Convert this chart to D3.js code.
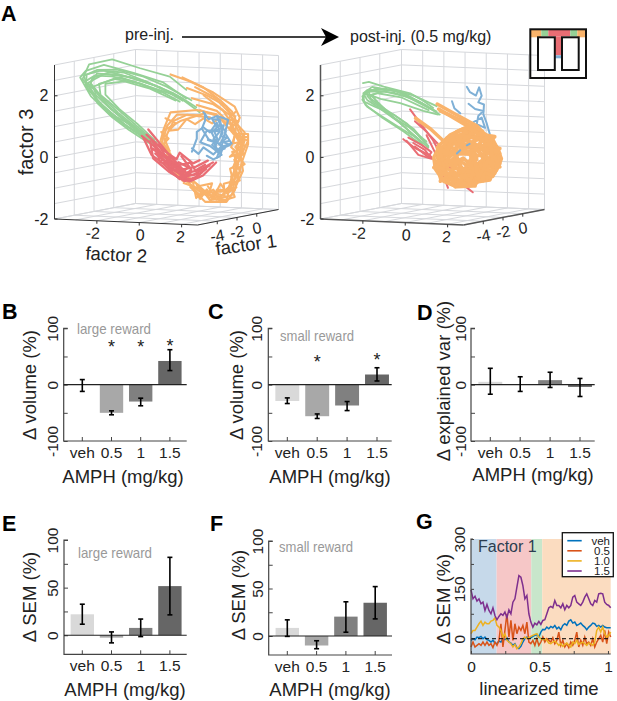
<!DOCTYPE html>
<html>
<head>
<meta charset="utf-8">
<script src="https://cdnjs.cloudflare.com/ajax/libs/d3/7.8.5/d3.min.js"></script>
<style>
	html, body { margin: 0; padding: 0; background: #fff; }
	svg { display: block; }
	text { font-family: "Liberation Sans", Arial, sans-serif; fill: #222; }
</style>
</head>
<body>
<div id="root"></div>
<script>

// Panel A: trajectories, each loop is a list of [factor 2, factor 3]
// with one factor 1 level per task phase
var factor1Green = -3.85, factor1Red = -1.8, factor1Orange = 0.3, factor1Blue = 0.3;

var preGreen = [
	[[-0.18,0.46],[-1.27,0.95],[-2.36,1.49],[-3.15,1.98],[-3.68,2.42],[-3.37,2.91],[-2.28,3.1],[-0.96,2.85],[0.44,2.62],[1.22,2.21]],
	[[-0.49,0.57],[-1.43,1.01],[-2.52,1.39],[-3.29,1.88],[-3.79,2.47],[-3.53,2.69],[-2.67,2.91],[-1.27,2.69],[0.13,2.42],[1.22,1.93]],
	[[-0.33,0.41],[-1.58,0.95],[-2.67,1.55],[-3.42,2.09],[-3.61,2.53],[-2.98,2.74],[-2.05,2.77],[-0.8,2.58],[0.29,2.29],[1.46,1.88]],
	[[-0.65,0.57],[-1.81,1.06],[-2.83,1.66],[-3.53,2.2],[-3.48,2.58],[-2.83,2.72],[-1.74,2.69],[-0.65,2.42],[0.6,2.09],[1.39,1.77]],
	[[-0.18,0.35],[-1.35,0.84],[-2.44,1.33],[-3.06,1.77],[-3.42,2.31],[-2.67,2.61],[-1.43,2.55],[-0.18,2.29],[0.91,1.98],[1.69,1.66]],
	[[-0.42,0.52],[-1.66,1.11],[-2.67,1.71],[-3.32,2.26],[-3.22,2.47],[-2.36,2.69],[-1.11,2.47],[-0.02,2.26],[1.07,1.88],[1.85,1.5]],
	[[-0.57,0.44],[-1.5,0.84],[-2.28,1.22],[-2.98,1.66],[-3.14,2.2],[-2.21,2.47],[-0.96,2.36],[0.13,2.09],[0.91,1.82]],
	[[-0.26,0.48],[-1.27,1.06],[-2.13,1.55],[-2.83,1.93],[-2.9,2.29],[-1.89,2.53],[-0.65,2.29],[0.6,2.04]],
	[[-0.4,0.42],[-1.1,0.9],[-2.0,1.38],[-2.75,1.85],[-3.3,2.3],[-3.0,2.62],[-2.0,2.62],[-0.75,2.45],[0.25,2.15],[1.05,1.85]],
	[[-0.55,0.5],[-1.45,0.98],[-2.35,1.5],[-3.05,2.05],[-3.55,2.35],[-3.1,2.55],[-2.3,2.55],[-1.2,2.4],[0.0,2.1]],
	[[-0.3,0.55],[-1.1,1.05],[-1.95,1.5],[-2.6,1.95],[-2.6,2.3],[-1.7,2.4],[-0.5,2.2],[0.7,1.85]]
];

var preOrange = [
	[[-1.46,2.38],[-0.53,2.18],[0.56,1.85],[1.57,1.42],[1.81,1.07],[1.5,0.55],[2.2,0.55],[2.2,0.22],[1.88,-0.43],[1.57,-1.3],[1.18,-1.68],[0.17,-1.71],[-0.53,-1.25]],
	[[-0.69,1.96],[0.25,1.75],[1.18,1.42],[1.5,0.98],[2.04,0.6],[1.81,0],[1.96,-0.65],[1.42,-1.46],[0.72,-1.62],[-0.06,-1.3],[-0.84,-1.13]],
	[[-0.45,1.64],[0.56,1.47],[1.34,1.15],[1.73,0.66],[2.04,0.12],[1.65,-0.54],[1.5,-1.19],[0.87,-1.51],[0.09,-1.46],[-0.69,-1.08],[-1.46,-0.65]],
	[[-0.22,1.42],[0.72,1.26],[1.42,0.82],[1.81,0.33],[1.57,-0.32],[1.73,-0.97],[1.03,-1.35],[0.25,-1.41],[-0.53,-0.97]],
	[[-0.06,1.26],[0.79,1.09],[1.5,0.55],[2.2,0.33],[1.81,-0.21],[1.5,-0.75],[1.18,-1.62],[0.4,-1.62],[-0.22,-1.19]],
	[[0.72,1.15],[-0.22,1.26],[-1.46,1.15],[-1.78,0.6],[-1.93,0.22],[-1.46,-0.21],[-1.78,-0.54]],
	[[0.4,1.04],[-0.69,1.09],[-1.31,0.88],[-1.62,0.44],[-1.78,0],[-1.15,-0.65]],
	[[0.09,1.15],[-1,0.88],[-1.78,0.55],[-1.85,0.12],[-1.39,-0.32]],
	[[-0.06,1.09],[-1.15,1.09],[-1.62,0.71],[-1.78,0.33],[-1.54,-0.05]],
	[[1.34,1.09],[1.18,0.88],[1.65,0.82],[1.5,0.22],[2.04,0.33],[1.73,-0.21],[2.04,-0.43],[1.57,-0.65],[1.81,-0.97],[1.34,-1.08],[1.57,-1.51],[0.87,-1.68],[0.56,-1.3],[-0.06,-1.51],[-0.37,-1.3]],
	[[1.81,0.12],[1.34,-0.21],[1.73,-0.1],[1.5,-0.54],[1.65,-0.86],[1.18,-1.3],[0.72,-1.3],[0.56,-1.62],[0.25,-1.3],[-0.06,-1.62],[-0.69,-1.03],[-1.15,-0.92],[-1.78,-0.54]],
	[[1.6,1.25],[1.25,1.0],[1.75,0.95],[1.35,0.7],[1.9,0.4],[1.6,0.1],[2.0,-0.1],[1.55,-0.3],[1.85,-0.7],[1.4,-0.85],[1.65,-1.2],[1.2,-1.4],[0.9,-1.1],[0.6,-1.5],[0.3,-1.2]],
	[[2.15,0.45],[1.7,0.45],[1.95,0.05],[1.45,-0.05],[1.75,-0.45],[1.35,-0.6],[1.5,-1.0],[1.05,-1.1],[1.1,-1.5],[0.6,-1.4],[0.45,-1.7],[0.1,-1.35],[-0.25,-1.6],[-0.4,-1.1],[-0.9,-1.0],[-1.2,-0.75]],
	[[-1.9,0.5],[-1.55,0.3],[-1.8,0.1],[-1.5,-0.1],[-1.7,-0.3],[-1.3,-0.45],[-1.4,-0.7],[-0.95,-0.75],[-0.9,-1.05],[-0.5,-1.05]],
	[[-1.7,0.95],[-1.2,0.8],[-1.55,0.55],[-1.1,0.6],[-0.7,0.95],[-0.3,0.8],[0.1,1.0],[0.5,0.85],[0.9,1.05],[1.2,0.85]],
	[[-0.9,2.3],[0.1,2.0],[0.9,1.6],[1.45,1.25],[1.7,0.85],[1.95,0.5]],
	[[-0.3,2.0],[0.6,1.7],[1.2,1.3],[1.6,1.1],[1.35,0.75],[1.85,0.2]],
	[[0.1,1.75],[1,1.3],[1.25,1.05],[1.6,0.55],[1.4,0.1],[1.75,-0.1]],
	[[-1.2,-0.55],[-0.6,-0.95],[-0.1,-1.2],[0.5,-1.1],[0.3,-1.55],[0.9,-1.55],[1.3,-1.2],[1.45,-0.8]]
];

var preRed = [
	[[-1.84,0.5],[-1.14,0.12],[-0.36,-0.32],[0.27,-0.64],[0.89,-0.53],[1.52,-0.26]],
	[[-1.53,0.72],[-1.06,0.34],[-0.52,-0.1],[0.11,-0.53],[0.73,-0.42],[1.28,-0.21]],
	[[-1.77,0.45],[-1.38,-0.1],[-0.83,-0.37],[-0.2,-0.75],[0.42,-0.91],[1.05,-0.7],[1.67,-0.26]],
	[[-1.45,0.34],[-1.3,-0.21],[-0.52,-0.64],[0.19,-0.91],[0.73,-0.75],[1.2,-0.48]],
	[[-1.61,0.55],[-0.83,0.07],[-0.2,-0.21],[-0.05,0.01],[0.58,-0.32],[0.89,-0.21]],
	[[-1.22,0.23],[-0.98,-0.32],[-0.36,-0.42],[0.27,-0.75],[0.89,-0.64]],
	[[-1.38,0.12],[-0.67,-0.21],[0.03,-0.59],[0.58,-0.7],[1.36,-0.37]],
	[[-1.14,0.01],[-0.52,-0.48],[0.11,-0.75],[0.5,-0.53],[0.03,-0.1]],
	[[-1.2,-0.05],[-0.7,-0.3],[-0.2,-0.45],[0.2,-0.8],[0.6,-0.85],[1.0,-0.6]],
	[[-1.05,0.25],[-0.65,-0.2],[-0.35,-0.55],[0.05,-0.65],[0.35,-0.45],[-0.1,-0.3],[-0.45,-0.6],[-0.05,-0.85],[0.3,-0.7]],
	[[-1.35,0.35],[-1.0,0.05],[-0.9,-0.25],[-0.5,-0.3],[-0.55,-0.55],[-0.15,-0.55],[0.1,-0.85],[0.45,-0.6]],
	[[-1.3,0.1],[-0.75,-0.1],[-0.4,-0.2],[-0.15,-0.4],[0.2,-0.35],[0.45,-0.3],[0.7,-0.55],[1.15,-0.35]]
];

var preBlue = [
	[[0.09,1.2],[0.33,0.98],[0.72,1.09],[1.03,1.04],[1.26,0.98],[1.11,0.55],[1.42,0.22],[1.03,0.12],[0.87,-0.21],[0.56,-0.32],[0.25,-0.21]],
	[[-0.45,-0.1],[-0.22,0.33],[-0.22,0.55],[0.09,0.71],[0.4,0.55],[0.72,0.88],[0.87,0.6],[0.56,0.33],[0.95,0.12],[0.56,-0.16],[0.09,0.06],[-0.14,-0.16],[-0.45,0.01]],
	[[0.17,1.15],[0.17,0.93],[0.02,0.66],[0.33,0.33],[0.72,0.22],[0.48,0.55],[0.87,0.82],[1.15,0.6],[0.95,0.28],[1.34,0.17],[0.87,0.01],[0.72,-0.27]],
	[[0.56,0.98],[0.87,0.98],[1,0.55],[0.64,0.11],[0.95,-0.16],[0.4,0.11],[-0.06,0.22],[0.25,0.6],[0.79,0.6]],
	[[0.5,1.0],[0.7,0.75],[1.05,0.8],[0.9,0.45],[1.2,0.4],[0.85,0.2],[1.1,0.05],[0.75,-0.05],[0.6,0.25],[0.3,0.3]],
	[[0.75,1.05],[0.95,0.7],[0.6,0.6],[0.75,0.35],[0.5,0.15],[0.85,-0.1],[1.0,0.25],[1.3,0.3]]
];

var postGreen = [
	[[0.09,0.3],[-0.77,0.79],[-1.71,1.33],[-2.56,1.88],[-2.95,1.98],[-2.8,2.09],[-1.86,2.15],[-0.62,1.98],[0.48,1.66]],
	[[-0.15,0.35],[-1.08,0.79],[-2.1,1.22],[-2.87,1.6],[-3.03,1.88],[-2.72,2.09],[-1.55,2.04],[-0.46,1.82],[0.48,1.49]],
	[[-0.3,0.52],[-1.24,1.06],[-2.17,1.49],[-2.8,1.77],[-2.95,1.93],[-2.41,2.15],[-1.24,2.09],[0.01,1.66]],
	[[-0.07,0.46],[-0.93,1.06],[-1.94,1.49],[-2.64,1.82],[-2.72,2.04],[-2.02,2.07],[-0.93,1.93],[0.24,1.55]],
	[[0.09,0.35],[-0.62,0.9],[-1.55,1.33],[-2.41,1.55],[-2.95,1.71],[-2.98,1.98],[-2.56,2.2],[-1.39,2.09],[-0.3,1.77],[0.63,1.39]],
	[[-3,2.31],[-2.72,2.36],[-2.02,2.22],[-0.77,2.04],[-0.15,1.82],[0.32,1.6]],
	[[-0.38,0.57],[-1.24,0.9],[-2.17,1.28],[-2.8,1.55],[-3.03,1.77],[-2.87,1.98],[-2.17,1.82],[-1.24,1.71],[-0.15,1.49],[0.55,1.39]],
	[[-0.2,0.42],[-1.0,0.92],[-1.85,1.4],[-2.55,1.72],[-2.8,1.9],[-2.3,2.0],[-1.2,1.9],[0.1,1.52]],
	[[0.0,0.5],[-0.85,0.95],[-1.6,1.25],[-2.3,1.65],[-2.55,1.95],[-1.7,2.15],[-0.7,1.9],[0.4,1.5]]
];

var postRed = [
	[[-2.05,0.39],[-1.5,0.12],[-0.8,-0.1],[-0.33,-0.42],[0.06,-1.13]],
	[[-1.81,0.45],[-1.19,0.23],[-0.72,0.01],[-0.88,-0.15],[-1.5,0.17]],
	[[-1.73,1.37],[-1.19,0.88],[-0.64,0.39],[-0.17,-0.21],[-0.02,-0.64]],
	[[-1.5,0.99],[-0.95,0.66],[-0.41,0.28],[-0.09,-0.26],[0.3,-0.59]],
	[[-1.89,0.34],[-1.34,-0.1],[-0.72,-0.21],[-1.03,0.07],[-1.58,0.28]],
	[[0.92,-1.08],[1.23,-1.24]],
	[[-0.95,0.55],[-0.48,-0.1],[-0.17,-0.64]]
];

var postBlue = [
	[[-0.03,2.02],[0.12,1.85],[0.4,1.75],[0.55,2.02],[0.67,1.75],[0.51,1.53],[0.78,1.47],[0.75,1.15],[0.9,0.88],[1.06,0.5]],
	[[0.05,1.47],[0.36,1.31],[0.75,1.26],[0.51,1.09],[0.44,0.82],[0.83,0.71],[0.67,1.04],[0.28,0.88],[-0.03,0.71]],
	[[-0.73,1.53],[-0.62,1.31],[-0.34,1.15]]
];

var postOrange = [
	[[-1.43,1.42],[-0.5,1.09],[0.44,0.77],[0.9,0.44],[1.37,0.12],[1.6,-0.27],[1.37,-0.65],[0.75,-0.86],[0.28,-1.19],[-0.5,-1.24],[-1.12,-1.08],[-1.51,-0.7],[-1.59,-0.32],[-1.28,0.12],[-0.81,0.44],[-0.19,0.66]],
	[[-1.28,1.2],[-0.34,0.93],[0.59,0.6],[1.21,0.33],[1.53,-0.1],[1.29,-0.54],[1.06,-0.97],[0.28,-1.08],[-0.65,-1.19],[-1.28,-0.97],[-1.43,-0.54],[-1.2,-0.1],[-0.65,0.28],[-0.03,0.55],[0.44,0.71]],
	[[-2.45,0.93],[-1.74,0.6],[-1.12,0.22],[-0.5,0.55],[0.28,0.71],[0.98,0.44],[1.37,0.01],[1.53,-0.43],[0.9,-0.75],[0.12,-1.03],[-0.81,-1.03],[-1.28,-0.75],[-1.12,-0.32],[-0.5,0.06],[0.28,0.22],[0.9,-0.1],[0.59,-0.54],[-0.19,-0.65],[-0.65,-0.43]],
	[[-1.36,1.26],[-0.19,0.82],[0.59,0.55],[1.14,0.12],[1.06,-0.43],[0.44,-0.75],[-0.34,-0.86],[-0.97,-0.65],[-0.89,-0.21],[-0.34,0.12],[0.28,0.01],[0.44,-0.32],[-0.03,-0.54],[-0.5,-0.32]],
	[[-0.97,0.28],[-0.03,0.55],[0.75,0.28],[1.21,-0.21],[0.83,-0.65],[0.12,-0.86],[-0.65,-0.81],[-1.2,-0.54],[-1.05,-0.05],[-0.42,0.33],[0.44,0.44],[1.06,0.12]],
	[[-1.51,-0.43],[-0.97,-0.97],[-0.19,-1.14],[0.59,-0.97],[1.29,-0.75],[1.53,-0.32],[1.14,0.22],[0.44,0.55],[-0.34,0.44],[-1.12,0.06],[-1.43,-0.32]],
	[[-1.12,-0.75],[-0.34,-1.03],[0.44,-0.86],[1.06,-0.54],[1.37,-0.16],[0.83,0.33],[-0.03,0.39],[-0.73,0.12],[-1.12,-0.32],[-0.65,-0.65],[0.12,-0.65],[0.75,-0.32],[0.44,0.12],[-0.26,0.01]],
	[[-0.03,-1.19],[-0.97,-0.86],[-1.36,-0.21],[-0.81,0.17],[-0.03,0.28],[0.67,0.06],[0.98,-0.32],[0.44,-0.7],[-0.34,-0.75],[-0.81,-0.43],[-0.42,-0.16],[0.12,-0.16],[0.28,-0.48]],
	[[-0.03,0.71],[0.59,0.5],[1.29,0.44],[0.9,0.17],[1.53,0.06],[1.06,-0.21],[1.53,-0.54],[0.9,-0.54],[1.06,-0.92],[0.44,-0.86],[0.36,-1.19],[-0.19,-0.92],[-0.58,-1.24],[-0.81,-0.86],[-1.28,-1.08],[-1.12,-0.65],[-1.59,-0.65],[-1.12,-0.32],[-1.43,0.01],[-0.97,0.01],[-0.97,0.33],[-0.5,0.22],[-0.5,0.55],[-0.03,0.71]],
	[[-1.4,-0.5],[-0.8,-0.55],[-0.2,-0.3],[0.3,-0.6],[0.9,-0.45],[1.3,-0.2],[0.8,0.05],[0.2,-0.05],[-0.4,-0.1],[-0.9,0.1],[-0.4,0.3],[0.2,0.4],[0.9,0.3],[1.3,0.1]],
	[[-1.3,-0.8],[-0.6,-0.85],[0,-0.95],[0.7,-0.7],[1.2,-0.85],[1.45,-0.4],[1.1,-0.1],[0.5,-0.2],[-0.1,-0.05],[-0.7,-0.2],[-1.3,-0.1],[-0.9,0.3],[-0.2,0.1],[0.4,0.3],[1,0.4]],
	[[-0.7,-1.15],[-0.3,-0.6],[0.1,-1.1],[0.4,-0.45],[0.75,-1],[0.85,-0.2],[1.2,-0.55],[1.1,0.2],[0.6,0.1],[0.7,0.6],[0.15,0.15],[-0.1,0.6],[-0.5,0.05],[-0.7,0.4],[-1.0,-0.2],[-1.35,0.1],[-1.1,-0.6]],
	[[-0.85,-0.9],[-0.45,-0.35],[-1.05,-0.45],[-0.6,-0.1],[-0.2,-0.75],[0.3,-0.15],[0.5,-0.95],[1.0,-0.3],[0.35,0.0],[0.75,0.35],[-0.1,0.42],[-0.35,-0.05]]
];

var postBlueSpots = [
	[[-0.5,-0.16],[-0.34,-0.05]],
	[[-0.03,0.12],[0.1,0.17]]
];

// Bar panels: categories, bar heights and error bar ends
var doses = ['veh', '0.5', '1', '1.5'];
var doseColors = ['#d9d9d9', '#a8a8a8', '#808080', '#666666'];

var volLarge = [0, -50, -30, 42];
var volLargeLo = [-12, -53.5, -37.5, 25];
var volLargeHi = [9, -46.5, -24, 62];

var volSmall = [-29, -56, -37, 18];
var volSmallLo = [-33.5, -60, -46, 6.5];
var volSmallHi = [-23.5, -52, -30, 30];

var explVar = [5, 1, 8, -4];
var explVarLo = [-17, -12, -5, -21];
var explVarHi = [29, 14, 22, 11];

var semLarge = [22, -2.5, 7.7, 51.6];
var semLargeLo = [11.6, -8, -1.4, 21.4];
var semLargeHi = [32.6, 3.5, 17, 81.8];

var semSmall = [8.5, -10, 20.4, 35];
var semSmallLo = [-0.4, -13.4, 4, 18];
var semSmallHi = [17, -5, 36, 52];

// Panel G: one value per time bin
var semVeh = [-5,0,-3,5,3,7,0,5,-3,-5,-10,-5,-13,-15,-7,-10,0,-3,3,-10,-13,-20,-15,-27,-30,-23,-10,0,5,3,3,7,10,13,5,20,28,27,35,30,37,33,40,30,35,27,40,45,40,53,57,47,50,40,43,47,40,35,27,35,40,47,45,37,40,35,40,35,33,33,33];
var sem05 = [-25,-10,-25,-20,-15,-20,-10,-20,-10,-20,-15,-27,-10,-20,-5,45,-25,25,75,5,55,-5,45,15,35,25,40,15,50,-10,-15,-5,-20,0,-20,-10,5,-10,0,-5,-10,3,-15,-5,20,-20,-5,-25,-15,-27,-10,-20,-5,20,-25,-5,-20,5,-15,-10,-20,0,-25,-10,0,10,-10,25,-15,20,5];
var sem10 = [15,25,25,35,45,53,40,50,45,45,53,55,63,40,35,25,5,15,-5,-10,-15,-25,-17,-30,-25,-15,0,5,0,3,7,10,13,15,5,0,-3,0,-5,-13,-15,-10,-7,-13,-20,-15,-23,-17,-13,-20,-25,-10,-15,-5,-17,-13,-10,-15,-20,-13,-15,-20,-10,25,35,20,35,15,5,10,20];
var sem15 = [147,120,128,113,120,105,110,85,103,85,75,93,70,57,67,75,70,80,63,87,75,110,120,155,190,185,160,120,130,75,50,35,47,42,52,43,55,57,75,93,97,93,115,100,100,93,105,87,100,93,100,125,130,110,105,100,110,125,135,120,105,100,115,110,135,137,135,110,103,100,93];
var semLabels = ['veh', '0.5', '1.0', '1.5'];
var semColors = ['#0072bd', '#d95319', '#edb120', '#7e2f8e'];
var phaseEdges = [0, 0.187, 0.44, 0.52, 1.02];
var phaseColors = ['#c6d9ea', '#f6c7c7', '#c8e6cb', '#fbdcc0'];

// T-maze inset, [x0, y0, x1, y1] in maze units
var mazeCells = [
	{c: '#f9b36b', r: [0, 0, 11, 8]},
	{c: '#95d196', r: [11, 0, 18, 7]},
	{c: '#e96d74', r: [18, 0, 40, 7]},
	{c: '#e96d74', r: [24.5, 7, 32, 26]},
	{c: '#7fb0d6', r: [24.5, 26, 32, 29]},
	{c: '#95d196', r: [40, 0, 47, 7]},
	{c: '#f9b36b', r: [47, 0, 55.7, 8]}
];
var mazeArms = [[7.7, 8, 24.5, 40.7], [31.7, 8, 48.4, 40.7]];


var svg = d3.select('#root').append('svg')
	.attr('width', 617)
	.attr('height', 701);

var lineGen = d3.line();


/* Panel A */
var f1Scale = d3.scaleLinear().domain([-6, 2.2]).range([0, 81]);
var f1Tilt = d3.scaleLinear().domain([-6, 2.2]).range([0, -15.5]);
var f2Scale = d3.scaleLinear().domain([-4, 2.75]).range([0, 143]);
var f2Tilt = d3.scaleLinear().domain([-4, 2.75]).range([0, 6]);
var f3Scale = d3.scaleLinear().domain([-2, 3]).range([219, 65]);

function project(ox, f1, f2, f3) {
	return [
		ox + f1Scale(f1) + f2Scale(f2),
		f3Scale(f3) + f1Tilt(f1) + f2Tilt(f2)
	];
}

function drawBox(ox, axisColor, axisWidth) {

	var g = svg.append('g');
	var segs = [];

	// Back wall and side wall
	d3.range(-2, 3.01, 0.5).forEach(function(f3) {
		segs.push([project(ox, -6, -4, f3), project(ox, 2.2, -4, f3)]);
		segs.push([project(ox, 2.2, -4, f3), project(ox, 2.2, 2.75, f3)]);
	});
	[-4, -3, -2, -1, 0, 1, 2, 2.75].forEach(function(f2) {
		segs.push([project(ox, 2.2, f2, -2), project(ox, 2.2, f2, 3)]);
		segs.push([project(ox, -6, f2, -2), project(ox, 2.2, f2, -2)]);
	});
	[-4, -2, 0, 2.2].forEach(function(f1) {
		segs.push([project(ox, f1, -4, -2), project(ox, f1, -4, 3)]);
		segs.push([project(ox, f1, -4, -2), project(ox, f1, 2.75, -2)]);
	});

	g.selectAll('path.grid').data(segs).enter().append('path')
		.attr('class', 'grid')
		.attr('d', lineGen)
		.attr('fill', 'none')
		.attr('stroke', '#d6d8dc')
		.attr('stroke-width', 1);

	// Dark axes
	var axes = [
		[project(ox, -6, -4, 3), project(ox, -6, -4, -2)],
		[project(ox, -6, -4, -2), project(ox, -6, 2.75, -2)],
		[project(ox, -6, 2.75, -2), project(ox, 2.2, 2.75, -2)]
	];
	g.selectAll('path.ax').data(axes).enter().append('path')
		.attr('class', 'ax')
		.attr('d', lineGen)
		.attr('fill', 'none')
		.attr('stroke', axisColor)
		.attr('stroke-width', axisWidth);

	// Ticks and their labels
	[-2, 0, 2].forEach(function(f3) {
		var p = project(ox, -6, -4, f3);
		g.append('line').attr('x1', p[0]).attr('x2', p[0] + 3).attr('y1', p[1]).attr('y2', p[1]).attr('stroke', '#333');
		g.append('text').text(f3)
			.attr('x', p[0] - 6).attr('y', p[1] + 5.5)
			.attr('text-anchor', 'end').attr('font-size', 16);
	});
	[-2, 0, 2].forEach(function(f2) {
		var p = project(ox, -6, f2, -2);
		g.append('line').attr('x1', p[0]).attr('x2', p[0]).attr('y1', p[1]).attr('y2', p[1] + 3).attr('stroke', '#333');
		g.append('text').text(f2)
			.attr('x', p[0] + (f2 === 2 ? -1 : f2 === 0 ? 1 : -4)).attr('y', p[1] + 18)
			.attr('text-anchor', 'middle').attr('font-size', 16)
			.attr('transform', 'rotate(3 ' + p[0] + ' ' + (p[1] + 12) + ')');
	});
	[-4, -2, 0].forEach(function(f1) {
		var p = project(ox, f1, 2.75, -2);
		g.append('line').attr('x1', p[0]).attr('x2', p[0]).attr('y1', p[1]).attr('y2', p[1] + 3).attr('stroke', '#333');
		g.append('text').text(f1)
			.attr('x', p[0] + 0).attr('y', p[1] + 20)
			.attr('text-anchor', 'middle').attr('font-size', 16)
			.attr('transform', 'rotate(-10 ' + p[0] + ' ' + (p[1] + 14) + ')');
	});
}

function drawLoops(ox, loops, f1, color, width) {

	var line = d3.line().curve(d3.curveLinear);

	svg.append('g').selectAll('path').data(loops).enter().append('path')
		.attr('d', function(loop) {
			return line(loop.map(function(p) { return project(ox, f1, p[0], p[1]); }));
		})
		.attr('fill', 'none')
		.attr('stroke', color)
		.attr('stroke-width', width)
		.attr('stroke-linejoin', 'round')
		.attr('stroke-linecap', 'round');
}

var green3d = '#95d196', orange3d = '#f9b36b', red3d = '#e96d74', blue3d = '#7fb0d6';

drawBox(54.5, '#333', 1);
drawLoops(54.5, preGreen, factor1Green, green3d, 1.8);
drawLoops(54.5, preOrange, factor1Orange, orange3d, 2.1);
drawLoops(54.5, preRed, factor1Red, red3d, 2.3);
drawLoops(54.5, preBlue, factor1Blue, blue3d, 2.1);

drawBox(320.5, '#555', 1.5);
drawLoops(320.5, postGreen, factor1Green, green3d, 1.8);
drawLoops(320.5, postRed, factor1Red, red3d, 2);
drawLoops(320.5, postBlue, factor1Blue, blue3d, 2);
drawLoops(320.5, postOrange, factor1Orange, orange3d, 3.6);
drawLoops(320.5, postBlueSpots, factor1Blue, blue3d, 2);

svg.append('text').text('factor 3')
	.attr('font-size', 20).attr('text-anchor', 'middle')
	.attr('transform', 'translate(33,142) rotate(-90)');
svg.append('text').text('factor 2')
	.attr('font-size', 18.5).attr('text-anchor', 'middle')
	.attr('transform', 'translate(116,261) rotate(3)');
svg.append('text').text('factor 1')
	.attr('font-size', 18.5).attr('text-anchor', 'middle')
	.attr('transform', 'translate(247,251) rotate(-8)');

svg.append('text').text('pre-inj.')
	.attr('x', 125).attr('y', 40).attr('font-size', 16);
svg.append('text').text('post-inj. (0.5 mg/kg)')
	.attr('x', 350).attr('y', 42).attr('font-size', 16);

// Arrow between the two boxes
svg.append('line')
	.attr('x1', 182).attr('x2', 328).attr('y1', 37).attr('y2', 37)
	.attr('stroke', '#000').attr('stroke-width', 1.6);
svg.append('path')
	.attr('d', 'M321,28 L339,37 L321,46 L326,37 Z')
	.attr('fill', '#000');

// T-maze inset
var maze = svg.append('g').attr('transform', 'translate(530.3,29.3)');
maze.selectAll('rect.cell').data(mazeCells).enter().append('rect')
	.attr('class', 'cell')
	.attr('x', (d) => d.r[0])
	.attr('y', (d) => d.r[1])
	.attr('width', (d) => d.r[2] - d.r[0])
	.attr('height', (d) => d.r[3] - d.r[1])
	.attr('fill', (d) => d.c);
maze.append('rect')
	.attr('width', 55.7).attr('height', 48.7)
	.attr('fill', 'none').attr('stroke', '#111').attr('stroke-width', 2);
maze.selectAll('rect.arm').data(mazeArms).enter().append('rect')
	.attr('class', 'arm')
	.attr('x', (d) => d[0])
	.attr('y', (d) => d[1])
	.attr('width', (d) => d[2] - d[0])
	.attr('height', (d) => d[3] - d[1])
	.attr('fill', '#fff').attr('stroke', '#111').attr('stroke-width', 2);


/* Panels B-F */
function rotateYLabels(sel, offset) {
	sel.selectAll('text')
		.attr('x', 0)
		.attr('y', 0)
		.attr('dy', null)
		.attr('text-anchor', 'middle')
		.attr('transform', 'translate(' + (-offset) + ',0) rotate(-90)');
}

function barPanel(o) {

	var y = d3.scaleLinear().domain(o.yDomain).range([o.bottom, o.top]);
	var step = o.step;
	var x = d3.scaleBand()
		.domain(doses)
		.range([o.first - step / 2, o.first + 3.5 * step])
		.paddingInner(0.2)
		.paddingOuter(0.1);

	var g = svg.append('g');

	g.selectAll('rect').data(o.values).enter().append('rect')
		.attr('x', (d, i) => x(doses[i]))
		.attr('width', x.bandwidth())
		.attr('y', (d) => y(Math.max(d, 0)))
		.attr('height', (d) => Math.abs(y(d) - y(0)))
		.attr('fill', (d, i) => doseColors[i]);

	// Axes
	var yAxis = d3.axisLeft(y)
		.tickValues(o.yTicks)
		.tickSize(-4)
		.tickFormat((d) => o.yLabels.indexOf(d) >= 0 ? d : '');

	var yG = g.append('g')
		.attr('transform', 'translate(' + o.left + ',0)')
		.attr('font-family', null)
		.call(yAxis);
	yG.select('.domain').remove();
	yG.selectAll('line').attr('stroke', '#444');
	yG.selectAll('text').attr('font-size', 15.5).attr('fill', '#333');
	rotateYLabels(yG, o.tickOffset);

	var xG = g.append('g')
		.attr('transform', 'translate(0,' + o.bottom + ')')
		.attr('font-family', null)
		.call(d3.axisBottom(x).tickSize(-4));
	xG.select('.domain').remove();
	xG.selectAll('line').attr('stroke', '#444');
	xG.selectAll('text').attr('y', 17).attr('dy', null).attr('font-size', 15.5);

	g.append('path')
		.attr('d', 'M' + (o.left + 4) + ',' + o.top + 'H' + o.left + 'V' + o.bottom + 'H' + o.right)
		.attr('fill', 'none').attr('stroke', '#444').attr('stroke-width', 1.2);

	// Zero line on top of the bars
	g.append('line')
		.attr('x1', o.left).attr('x2', o.right)
		.attr('y1', y(0)).attr('y2', y(0))
		.attr('stroke', '#222').attr('stroke-width', 1.2);

	// Error bars
	var center = (d, i) => x(doses[i]) + x.bandwidth() / 2;
	var eb = g.selectAll('g.eb').data(o.lo).enter().append('g').attr('class', 'eb');
	eb.append('line')
		.attr('x1', center).attr('x2', center)
		.attr('y1', (d) => y(d))
		.attr('y2', (d, i) => y(o.hi[i]));
	eb.append('line')
		.attr('x1', (d, i) => center(d, i) - 2.5).attr('x2', (d, i) => center(d, i) + 2.5)
		.attr('y1', (d) => y(d)).attr('y2', (d) => y(d));
	eb.append('line')
		.attr('x1', (d, i) => center(d, i) - 2.5).attr('x2', (d, i) => center(d, i) + 2.5)
		.attr('y1', (d, i) => y(o.hi[i])).attr('y2', (d, i) => y(o.hi[i]));
	eb.selectAll('line').attr('stroke', '#000').attr('stroke-width', 1.6);

	// Titles and labels
	if (o.title) {
		g.append('text').text(o.title)
			.attr('x', o.titleX).attr('y', o.titleY)
			.attr('font-size', 15)
			.attr('textLength', 74).attr('lengthAdjust', 'spacingAndGlyphs')
			.style('fill', '#999');
	}

	(o.stars || []).forEach(function(s) {
		g.append('text').text('*')
			.attr('x', x(s.dose) + x.bandwidth() / 2).attr('y', s.y)
			.attr('text-anchor', 'middle').attr('font-size', 18);
	});

	g.append('text').text(o.yTitle)
		.attr('font-size', 18.5).attr('text-anchor', 'middle')
		.attr('transform', 'translate(' + o.yTitleX + ',' + o.yTitleY + ') rotate(-90)');

	g.append('text').text('AMPH (mg/kg)')
		.attr('x', o.xTitleX).attr('y', o.xTitleY)
		.attr('font-size', 18.5).attr('text-anchor', 'middle');
}

var volTicks = [-100, -50, 0, 50, 100], volLabels = [-100, 0, 100];
var semTicks = [0, 25, 50, 75, 100], semTickLabels = [0, 50, 100];

barPanel({
	values: volLarge, lo: volLargeLo, hi: volLargeHi,
	yDomain: [-100, 100], yTicks: volTicks, yLabels: volLabels,
	top: 328.3, bottom: 441, left: 63.7, right: 186.7, first: 82.3, step: 29.2, tickOffset: 6,
	title: 'large reward', titleX: 77, titleY: 334,
	stars: [{dose: '0.5', y: 353}, {dose: '1', y: 353}, {dose: '1.5', y: 352}],
	yTitle: '\u0394 volume (%)', yTitleX: 36, yTitleY: 385, xTitleX: 123, xTitleY: 483
});

barPanel({
	values: volSmall, lo: volSmallLo, hi: volSmallHi,
	yDomain: [-100, 100], yTicks: volTicks, yLabels: volLabels,
	top: 328.3, bottom: 441, left: 268.3, right: 391.7, first: 287.3, step: 29.9, tickOffset: 6,
	title: 'small reward', titleX: 280, titleY: 341,
	stars: [{dose: '0.5', y: 368}, {dose: '1.5', y: 366}],
	yTitle: '\u0394 volume (%)', yTitleX: 243, yTitleY: 385, xTitleX: 330, xTitleY: 483
});

barPanel({
	values: explVar, lo: explVarLo, hi: explVarHi,
	yDomain: [-100, 100], yTicks: volTicks, yLabels: volLabels,
	top: 328.3, bottom: 441, left: 471, right: 594.7, first: 490.3, step: 29.9, tickOffset: 5,
	yTitle: '\u0394 explained var (%)', yTitleX: 450, yTitleY: 381, xTitleX: 533, xTitleY: 481
});

barPanel({
	values: semLarge, lo: semLargeLo, hi: semLargeHi,
	yDomain: [-20, 100], yTicks: semTicks, yLabels: semTickLabels,
	top: 540, bottom: 654.3, left: 64, right: 186.7, first: 82.3, step: 29.2, tickOffset: 6,
	title: 'large reward', titleX: 78, titleY: 558,
	yTitle: '\u0394 SEM (%)', yTitleX: 36, yTitleY: 597, xTitleX: 125, xTitleY: 696
});

barPanel({
	values: semSmall, lo: semSmallLo, hi: semSmallHi,
	yDomain: [-20, 100], yTicks: semTicks, yLabels: semTickLabels,
	top: 541, bottom: 655, left: 268.7, right: 392, first: 287.3, step: 29.3, tickOffset: 6,
	title: 'small reward', titleX: 279, titleY: 552,
	yTitle: '\u0394 SEM (%)', yTitleX: 245, yTitleY: 595, xTitleX: 330, xTitleY: 696
});


/* Panel G */
var gx = d3.scaleLinear().domain([0, 1.02]).range([471, 610.7]);
var gy = d3.scaleLinear().domain([-46, 300]).range([654, 539]);

var gG = svg.append('g');

gG.selectAll('rect.phase').data(phaseColors).enter().append('rect')
	.attr('class', 'phase')
	.attr('x', (d, i) => gx(phaseEdges[i]))
	.attr('width', (d, i) => gx(phaseEdges[i + 1]) - gx(phaseEdges[i]))
	.attr('y', gy(300))
	.attr('height', gy(-46) - gy(300))
	.attr('fill', (d) => d);

var semSeries = [semVeh, sem05, sem10, sem15];
var semLine = d3.line()
	.x((d, i) => gx(i / 70 * 1.02))
	.y((d) => gy(d));

gG.selectAll('path.sem').data(semSeries).enter().append('path')
	.attr('class', 'sem')
	.attr('d', semLine)
	.attr('fill', 'none')
	.attr('stroke', (d, i) => semColors[i])
	.attr('stroke-width', 1.5);

gG.append('line')
	.attr('x1', gx(0)).attr('x2', gx(1.02))
	.attr('y1', gy(0)).attr('y2', gy(0))
	.attr('stroke', '#000').attr('stroke-width', 1)
	.attr('stroke-dasharray', '4,3');

var gyG = gG.append('g')
	.attr('transform', 'translate(471,0)')
	.attr('font-family', null)
	.call(d3.axisLeft(gy).tickValues([0, 75, 150, 225, 300]).tickSize(-3)
		.tickFormat((d) => d % 150 === 0 ? d : ''));
gyG.select('.domain').remove();
gyG.selectAll('line').attr('stroke', '#444');
gyG.selectAll('text').attr('font-size', 15.5).attr('fill', '#333');
rotateYLabels(gyG, 6);

var gxG = gG.append('g')
	.attr('transform', 'translate(0,654)')
	.attr('font-family', null)
	.call(d3.axisBottom(gx).tickValues([0, 0.25, 0.5, 0.75, 1]).tickSize(-3)
		.tickFormat((d) => d === 0.25 || d === 0.75 ? '' : d));
gxG.select('.domain').remove();
gxG.selectAll('line').attr('stroke', '#444');
gxG.selectAll('text').attr('y', 18).attr('dy', null).attr('font-size', 15.5);

gG.append('path')
	.attr('d', 'M473,539H471V654H610.7')
	.attr('fill', 'none').attr('stroke', '#444').attr('stroke-width', 1.2);

gG.append('text').text('Factor 1')
	.attr('x', 478).attr('y', 552)
	.attr('font-size', 16).style('fill', '#2c3e50');

gG.append('text').text('\u0394 SEM (%)')
	.attr('font-size', 18.5).attr('text-anchor', 'middle')
	.attr('transform', 'translate(450,599) rotate(-90)');

gG.append('text').text('linearized time')
	.attr('x', 539).attr('y', 695)
	.attr('font-size', 18.5).attr('text-anchor', 'middle');

// Legend
var legend = gG.append('g');
legend.append('rect')
	.attr('x', 562.3).attr('y', 532.7).attr('width', 51).attr('height', 44)
	.attr('fill', '#fff').attr('stroke', '#111').attr('stroke-width', 1.3);

var legendY = d3.scalePoint().domain(semLabels).range([540.7, 571]);

legend.selectAll('line').data(semLabels).enter().append('line')
	.attr('x1', 567.3).attr('x2', 581.7)
	.attr('y1', (d) => legendY(d)).attr('y2', (d) => legendY(d))
	.attr('stroke', (d, i) => semColors[i])
	.attr('stroke-width', 1.6);

legend.selectAll('text').data(semLabels).enter().append('text')
	.text((d) => d)
	.attr('x', 610).attr('y', (d) => legendY(d) + 4)
	.attr('text-anchor', 'end').attr('font-size', 11.5);


/* Panel letters */
var letters = [
	['A', 1, 21], ['B', 2, 319], ['C', 208, 319], ['D', 417, 320],
	['E', 2, 531], ['F', 210, 531], ['G', 416, 529]
];

svg.selectAll('text.letter').data(letters).enter().append('text')
	.attr('class', 'letter')
	.text((d) => d[0])
	.attr('x', (d) => d[1])
	.attr('y', (d) => d[2])
	.attr('font-size', 21.5)
	.attr('font-weight', 'bold')
	.style('fill', '#000');

</script>
</body>
</html>
